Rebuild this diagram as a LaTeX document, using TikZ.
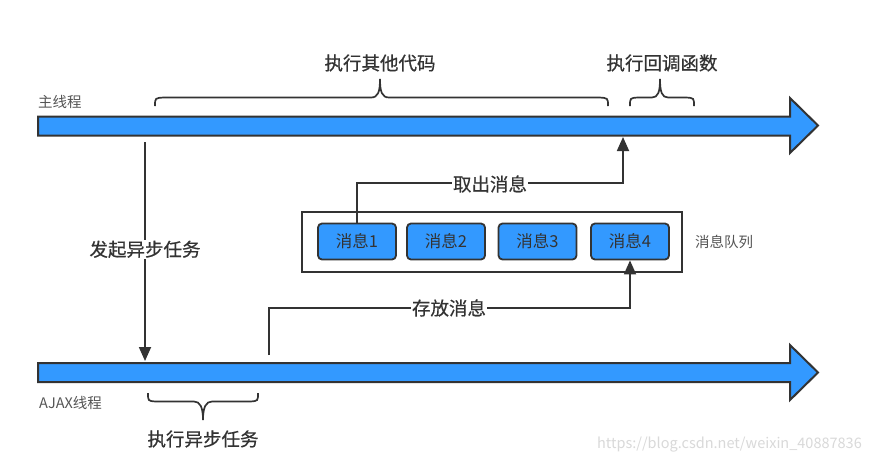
\documentclass[tikz,border=0pt]{standalone}
\usepackage{fontspec}
\setmainfont{Noto Sans CJK SC}
\newfontfamily\labfont[FakeBold=0.6]{Noto Sans CJK SC}
\usetikzlibrary{arrows.meta,calc}
\definecolor{tblue}{HTML}{3399FF}
\definecolor{tdark}{HTML}{333333}
\definecolor{tgray}{HTML}{555555}
\begin{document}
\begin{tikzpicture}[x=1pt,y=-1pt,
  thread/.style={fill=tblue,draw=tdark,line width=2pt,line join=miter},
  conn/.style={draw=tdark,line width=1.8pt},
  tip/.style={-{Triangle[width=12pt,length=14pt]}},
  brc/.style={draw=tdark,line width=1.7pt},
  big/.style={font=\labfont\fontsize{18.5}{20}\selectfont,text=tdark,inner sep=1pt},
  small/.style={font=\fontsize{14.5}{16}\selectfont,text=tgray,inner sep=0pt},
  msg/.style={fill=tblue,draw=tdark,line width=1.8pt,rounded corners=4pt,minimum width=78pt,minimum height=36pt,inner sep=0pt,font=\fontsize{16.5}{18}\selectfont,text=tdark},
  bg/.style={fill=white}]
\useasboundingbox[fill=white] (0,0) rectangle (872,464);
% threads
\draw[thread] (38,116.5) -- (790,116.5) -- (790,98) -- (818,125.5) -- (790,153) -- (790,135.5) -- (38,135.5) -- cycle;
\draw[thread] (38,363) -- (790,363) -- (790,345) -- (818,372.5) -- (790,400) -- (790,382) -- (38,382) -- cycle;
\node[small,anchor=west] (mainlbl) at (38,102) {主线程};
\node[small,anchor=west] (ajaxlbl) at (39,403) {AJAX线程};
% coordinates
\coordinate (mainbot) at (145,142);
\coordinate (ajaxtop) at (145,361);
\coordinate (ajaxstart) at (269,355);
\coordinate (maintip) at (623,137);
% queue
\draw[draw=tdark,line width=1.8pt] (302,212) rectangle (682,272);
\node[msg] (m1) at (357,241.5) {消息1};
\node[msg] (m2) at (446,241.5) {消息2};
\node[msg] (m3) at (537.5,241.5) {消息3};
\node[msg] (m4) at (630,241.5) {消息4};
\node[small,anchor=west] (qlbl) at (695,242) {消息队列};
% connectors
\draw[conn,tip] (mainbot) -- node[big,bg,pos=0.49] (startlbl) {发起异步任务} (ajaxtop);
\draw[conn,tip] (m1.north) -- ++(0,-40) -| (maintip);
\node[big,bg] (takelbl) at (490,184) {取出消息};
\draw[conn,tip] (ajaxstart) -- ++(0,-47) -| (m4.south);
\node[big,bg] (putlbl) at (449,308) {存放消息};
% braces
\draw[brc] (155,106) .. controls (155,98) .. (164,97.5) -- (371,97.5) .. controls (378,97.5) and (380,92) .. (380,79) .. controls (380,92) and (382,97.5) .. (389,97.5) -- (599,97.5) .. controls (608,98) .. (608,106);
\node[big] (otherlbl) at (380,63) {执行其他代码};
\draw[brc] (630,106) .. controls (630,98) .. (638,97.5) -- (652,97.5) .. controls (658,97.5) and (660,92) .. (660,79) .. controls (660,92) and (662,97.5) .. (668,97.5) -- (686,97.5) .. controls (694,98) .. (694,106);
\node[big] (cblbl) at (662,63) {执行回调函数};
\draw[brc] (148,393) .. controls (148,401) .. (156,401.5) -- (194,401.5) .. controls (200,401.5) and (203,407) .. (203,420) .. controls (203,407) and (206,401.5) .. (212,401.5) -- (250,401.5) .. controls (258,401) .. (258,393);
\node[big] (asynclbl) at (203,439) {执行异步任务};
% watermark
\node[font=\fontsize{14.5}{15}\selectfont,text=black!15,anchor=east,inner sep=0pt] (wm) at (862,445) {https://blog.csdn.net/weixin\_40887836};
\end{tikzpicture}
\end{document}
